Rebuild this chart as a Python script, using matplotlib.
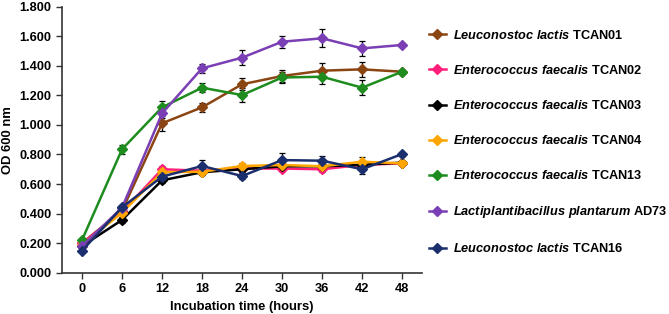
import numpy as np
import matplotlib.pyplot as plt
from matplotlib.lines import Line2D

plt.rcParams["font.family"] = ["Liberation Sans", "DejaVu Sans"]
plt.rcParams["mathtext.fontset"] = "custom"
plt.rcParams["mathtext.it"] = "Liberation Sans:italic:bold"
plt.rcParams["mathtext.rm"] = "Liberation Sans:bold"

hours = ["0", "6", "12", "18", "24", "30", "36", "42", "48"]

lac01 = [0.20, 0.42, 1.011, 1.119, 1.275, 1.331, 1.367, 1.376, 1.360]
fae02 = [0.20, 0.41, 0.700, 0.690, 0.705, 0.705, 0.700, 0.730, 0.740]
fae03 = [0.18, 0.357, 0.625, 0.680, 0.700, 0.720, 0.720, 0.730, 0.745]
fae04 = [0.19, 0.406, 0.680, 0.683, 0.722, 0.729, 0.720, 0.751, 0.740]
fae13 = [0.221, 0.835, 1.119, 1.252, 1.202, 1.321, 1.326, 1.252, 1.360]
pla73 = [0.18, 0.44, 1.078, 1.383, 1.455, 1.563, 1.586, 1.518, 1.541]
lac16 = [0.149, 0.442, 0.650, 0.722, 0.654, 0.762, 0.758, 0.700, 0.803]

lac01_err = [0.01, 0.02, 0.05, 0.03, 0.04, 0.04, 0.05, 0.05, 0.01]
fae02_err = [0.01, 0.01, 0.02, 0.02, 0.02, 0.02, 0.02, 0.02, 0.01]
fae03_err = [0.01, 0.02, 0.02, 0.02, 0.02, 0.03, 0.02, 0.02, 0.01]
fae04_err = [0.01, 0.01, 0.02, 0.02, 0.02, 0.02, 0.02, 0.03, 0.01]
fae13_err = [0.01, 0.03, 0.04, 0.03, 0.05, 0.04, 0.05, 0.05, 0.01]
pla73_err = [0.01, 0.02, 0.03, 0.03, 0.05, 0.04, 0.06, 0.05, 0.01]
lac16_err = [0.01, 0.01, 0.03, 0.04, 0.02, 0.05, 0.03, 0.03, 0.01]

series = [
    (r"$Leuconostoc\ lactis$ TCAN01", lac01, lac01_err, "#8B4513"),
    (r"$Enterococcus\ faecalis$ TCAN02", fae02, fae02_err, "#FF1F7A"),
    (r"$Enterococcus\ faecalis$ TCAN03", fae03, fae03_err, "#000000"),
    (r"$Enterococcus\ faecalis$ TCAN04", fae04, fae04_err, "#FFA500"),
    (r"$Enterococcus\ faecalis$ TCAN13", fae13, fae13_err, "#1E8C1E"),
    (r"$Lactiplantibacillus\ plantarum$ AD73", pla73, pla73_err, "#7B3FB5"),
    (r"$Leuconostoc\ lactis$ TCAN16", lac16, lac16_err, "#1B2F6E"),
]

fig = plt.figure(figsize=(6.69, 3.14), dpi=100)
ax = fig.add_axes([0.0927, 0.1315, 0.5383, 0.8472])

x = np.arange(len(hours))
handles = []
for label, vals, err, color in series:
    ax.errorbar(x, vals, yerr=err, color=color, lw=1.8, marker="D", ms=5,
                ecolor="black", elinewidth=0.9, capsize=2, capthick=0.9)
    handles.append(Line2D([], [], color=color, lw=1.8, marker="D", ms=5, label=label))

ax.set_xlim(-0.5, len(hours) - 0.5)
ax.set_ylim(0, 1.8)
ax.set_xticks(x)
ax.set_xticklabels(hours)
ax.set_yticks(np.arange(0, 1.81, 0.2))
ax.set_yticklabels([f"{v:.3f}" for v in np.arange(0, 1.81, 0.2)])
for lbl in ax.get_xticklabels() + ax.get_yticklabels():
    lbl.set_fontweight("bold")
    lbl.set_fontsize(9.2)
ax.tick_params(direction="out", length=4, width=1, color="#333333")
ax.spines["top"].set_visible(False)
ax.spines["right"].set_visible(False)
for s in ("left", "bottom"):
    ax.spines[s].set_color("#333333")
    ax.spines[s].set_linewidth(1.2)

ax.set_xlabel("Incubation time (hours)", fontsize=9.4, fontweight="bold", labelpad=4)
ax.set_ylabel("OD 600 nm", fontsize=9.4, fontweight="bold", labelpad=4)

fig.legend(handles=handles, loc="upper left", bbox_to_anchor=(0.624, 0.945),
           frameon=False, prop={"size": 9.2, "weight": "bold"},
           handlelength=1.3, handletextpad=0.55, labelspacing=1.73)

fig.savefig("out.png", dpi=100)
